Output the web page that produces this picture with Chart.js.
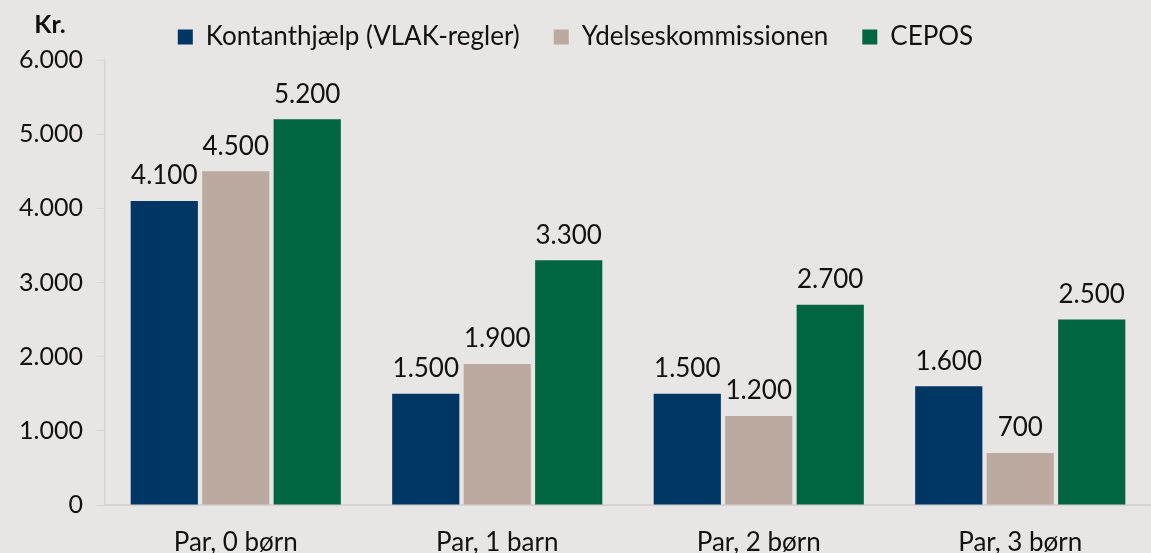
<!DOCTYPE html>
<html>
<head>
<meta charset="utf-8">
<script src="https://cdn.jsdelivr.net/npm/chart.js@4"></script>
<style>
  html, body { margin: 0; padding: 0; background: #e7e6e5; }
  #wrap { width: 1151px; height: 553px; position: relative; }
</style>
</head>
<body>
<div id="wrap"><canvas id="chart"></canvas></div>
<script>
// ---- DATA ----
const CATEGORIES = ['Par, 0 børn', 'Par, 1 barn', 'Par, 2 børn', 'Par, 3 børn'];
const SERIES_NAMES = ['Kontanthjælp (VLAK-regler)', 'Ydelseskommissionen', 'CEPOS'];
const KONTANTHJAELP = [4100, 1500, 1500, 1600];
const YDELSESKOMMISSIONEN = [4500, 1900, 1200, 700];
const CEPOS = [5200, 3300, 2700, 2500];
const Y_TICKS = [0, 1000, 2000, 3000, 4000, 5000, 6000];
const COLORS = ['#003663', '#bcaaa0', '#006641'];

const FONT = "Lato, 'Open Sans', sans-serif";
const TEXT = '#111111';

// Danish thousands separator
function fmt(v) {
  return String(v).replace(/\B(?=(\d{3})+(?!\d))/g, '.');
}

// value labels above each bar
const barLabels = {
  id: 'barLabels',
  afterDatasetsDraw(chart) {
    const c = chart.ctx;
    c.save();
    c.font = '26px ' + FONT;
    c.fillStyle = TEXT;
    c.textAlign = 'center';
    c.textBaseline = 'middle';
    chart.data.datasets.forEach((ds, i) => {
      chart.getDatasetMeta(i).data.forEach((bar, j) => {
        c.fillText(fmt(ds.data[j]), bar.x, bar.y - 25);
      });
    });
    c.restore();
  },
};

// "Kr." unit label, top left
const unitLabel = {
  id: 'unitLabel',
  afterDraw(chart) {
    const c = chart.ctx;
    c.save();
    c.font = 'bold 25px ' + FONT;
    c.fillStyle = TEXT;
    c.textAlign = 'center';
    c.textBaseline = 'middle';
    c.fillText('Kr.', 50, 25);
    c.restore();
  },
};

new Chart(document.getElementById('chart'), {
  type: 'bar',
  data: {
    labels: CATEGORIES,
    datasets: [KONTANTHJAELP, YDELSESKOMMISSIONEN, CEPOS].map((d, i) => ({
      label: SERIES_NAMES[i],
      data: d,
      backgroundColor: COLORS[i],
      borderWidth: 0,
      categoryPercentage: 0.82,
      barPercentage: 0.94,
    })),
  },
  options: {
    responsive: true,
    maintainAspectRatio: false,
    animation: false,
    layout: { padding: { top: -10, right: 0, left: 0, bottom: 0 } },
    plugins: {
      tooltip: { enabled: false },
      legend: {
        position: 'top',
        maxHeight: 71,
        labels: {
          color: TEXT,
          font: { family: FONT, size: 26 },
          boxWidth: 15,
          boxHeight: 15,
          padding: 34,
        },
      },
    },
    scales: {
      x: {
        grid: { display: false },
        border: { color: '#d4d4d4', width: 2 },
        ticks: {
          color: TEXT,
          font: { family: FONT, size: 26 },
          padding: 14,
        },
        afterFit(scale) { scale.height = 48; },
      },
      y: {
        min: 0,
        max: 6000,
        afterBuildTicks(scale) { scale.ticks = Y_TICKS.map(v => ({ value: v })); },
        grid: {
          drawOnChartArea: false,
          drawTicks: true,
          tickLength: 8,
          color: '#d4d4d4',
        },
        border: { color: '#d4d4d4', width: 1.5 },
        ticks: {
          color: TEXT,
          font: { family: FONT, size: 25 },
          padding: 14,
          callback: v => fmt(v),
        },
        afterFit(scale) { scale.width = 105; },
      },
    },
  },
  plugins: [barLabels, unitLabel],
});
</script>
</body>
</html>
